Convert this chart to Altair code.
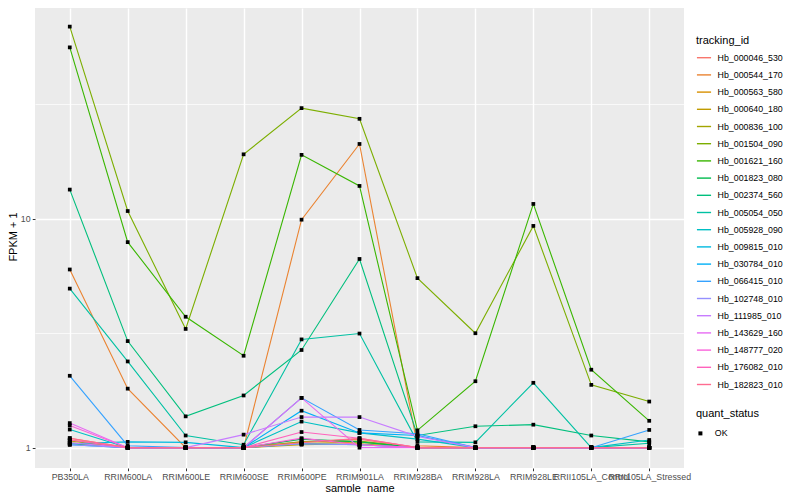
import altair as alt
import pandas as pd

# ---- data -------------------------------------------------------------
sample_names = ["PB350LA", "RRIM600LA", "RRIM600LE", "RRIM600SE", "RRIM600PE",
                "RRIM901LA", "RRIM928BA", "RRIM928LA", "RRIM928LE",
                "RRII105LA_Control", "RRII105LA_Stressed"]

tracking_ids = ["Hb_000046_530", "Hb_000544_170", "Hb_000563_580", "Hb_000640_180",
                "Hb_000836_100", "Hb_001504_090", "Hb_001621_160", "Hb_001823_080",
                "Hb_002374_560", "Hb_005054_050", "Hb_005928_090", "Hb_009815_010",
                "Hb_030784_010", "Hb_066415_010", "Hb_102748_010", "Hb_111985_010",
                "Hb_143629_160", "Hb_148777_020", "Hb_176082_010", "Hb_182823_010"]

hb_000046_530 = [1.10, 1.00, 1.00, 1.00, 1.06, 1.09, 1.00, 1.00, 1.00, 1.00, 1.00]
hb_000544_170 = [6.00, 1.81, 1.00, 1.00, 9.90, 21.2, 1.02, 1.00, 1.00, 1.00, 1.00]
hb_000563_580 = [1.08, 1.00, 1.00, 1.00, 1.04, 1.06, 1.00, 1.00, 1.00, 1.00, 1.00]
hb_000640_180 = [1.05, 1.00, 1.00, 1.00, 1.03, 1.04, 1.00, 1.00, 1.00, 1.00, 1.00]
hb_000836_100 = [1.07, 1.00, 1.00, 1.00, 1.06, 1.07, 1.00, 1.00, 1.00, 1.00, 1.00]
hb_001504_090 = [69.0, 10.8, 3.30, 19.1, 30.4, 27.3, 5.50, 3.16, 9.30, 1.88, 1.59]
hb_001621_160 = [56.0, 7.90, 3.73, 2.52, 19.0, 13.9, 1.19, 1.95, 11.6, 2.19, 1.31]
hb_001823_080 = [1.04, 1.00, 1.00, 1.00, 1.09, 1.06, 1.00, 1.00, 1.00, 1.00, 1.00]
hb_002374_560 = [13.4, 2.92, 1.37, 1.69, 2.67, 6.67, 1.13, 1.24, 1.26, 1.13, 1.06]
hb_005054_050 = [4.95, 2.38, 1.13, 1.03, 2.97, 3.15, 1.06, 1.055, 1.92, 1.00, 1.045]
hb_005928_090 = [1.20, 1.00, 1.00, 1.00, 1.30, 1.16, 1.09, 1.00, 1.00, 1.00, 1.08]
hb_009815_010 = [1.04, 1.06, 1.055, 1.00, 1.04, 1.03, 1.00, 1.00, 1.00, 1.00, 1.00]
hb_030784_010 = [1.03, 1.00, 1.00, 1.00, 1.45, 1.16, 1.13, 1.00, 1.00, 1.00, 1.00]
hb_066415_010 = [2.06, 1.02, 1.00, 1.00, 1.65, 1.195, 1.15, 1.00, 1.00, 1.00, 1.195]
hb_102748_010 = [1.03, 1.00, 1.00, 1.00, 1.04, 1.03, 1.00, 1.00, 1.00, 1.00, 1.00]
hb_111985_010 = [1.05, 1.00, 1.00, 1.14, 1.36, 1.36, 1.12, 1.00, 1.00, 1.00, 1.00]
hb_143629_160 = [1.28, 1.00, 1.00, 1.00, 1.65, 1.00, 1.00, 1.00, 1.00, 1.00, 1.00]
hb_148777_020 = [1.25, 1.00, 1.00, 1.00, 1.10, 1.03, 1.00, 1.00, 1.00, 1.00, 1.00]
hb_176082_010 = [1.08, 1.00, 1.00, 1.00, 1.17, 1.10, 1.00, 1.00, 1.00, 1.00, 1.00]
hb_182823_010 = [1.10, 1.00, 1.00, 1.00, 1.05, 1.10, 1.00, 1.00, 1.00, 1.00, 1.00]

series_values = [hb_000046_530, hb_000544_170, hb_000563_580, hb_000640_180,
                 hb_000836_100, hb_001504_090, hb_001621_160, hb_001823_080,
                 hb_002374_560, hb_005054_050, hb_005928_090, hb_009815_010,
                 hb_030784_010, hb_066415_010, hb_102748_010, hb_111985_010,
                 hb_143629_160, hb_148777_020, hb_176082_010, hb_182823_010]

hue_colors = ["#F8766D", "#EA8331", "#D89000", "#C09B00", "#A3A500", "#7CAE00",
              "#39B600", "#00BB4E", "#00BF7D", "#00C1A3", "#00BFC4", "#00BAE0",
              "#00B0F6", "#35A2FF", "#9590FF", "#C77CFF", "#E76BF3", "#FA62DB",
              "#FF62BC", "#FF6C91"]

rows = []
for tid, vals in zip(tracking_ids, series_values):
    for s, v in zip(sample_names, vals):
        rows.append({"tracking_id": tid, "sample_name": s, "fpkm": v, "quant_status": "OK"})
df = pd.DataFrame(rows)

FONT = "Liberation Sans"

x_enc = alt.X("sample_name:N", sort=sample_names,
              scale=alt.Scale(type="point", padding=0.6),
              axis=alt.Axis(title="sample_name", labelAngle=0, labelOverlap=False,
                            labelFontSize=8.8, labelColor="#4D4D4D", labelPadding=2.2,
                            tickSize=2.75, tickColor="#333333", domain=False,
                            grid=True, gridColor="white", gridWidth=1.4,
                            titleFontSize=11, titleFontWeight="normal", titleColor="black",
                            titleX=324.5, titleY=20, titleBaseline="middle"))

yscale = alt.Scale(type="log", domain=[0.815, 83.2], nice=False)

lines = alt.Chart(df).mark_line(strokeWidth=1.1).encode(
    x=x_enc,
    y=alt.Y("fpkm:Q", scale=yscale,
            axis=alt.Axis(title="FPKM + 1", values=[1, 10], format="~g",
                          labelFontSize=8.8, labelColor="#4D4D4D", labelPadding=2.2,
                          tickSize=2.75, tickColor="#333333", domain=False,
                          grid=True, gridColor="white", gridWidth=1.4,
                          titleFontSize=11, titleFontWeight="normal", titleColor="black",
                          titleX=-22, titleY=228.5, titleAngle=-90,
                          titleAlign="center", titleBaseline="middle")),
    color=alt.Color("tracking_id:N",
                    scale=alt.Scale(domain=tracking_ids, range=hue_colors),
                    legend=alt.Legend(title="tracking_id", orient="none",
                                      legendX=661, legendY=27,
                                      symbolType="stroke", symbolSize=200,
                                      symbolStrokeWidth=1.4,
                                      labelFontSize=8.8, labelColor="black",
                                      titleFontSize=11, titleFontWeight="normal",
                                      titlePadding=3.7, rowPadding=4.2,
                                      labelOffset=5.6)),
    detail="tracking_id:N",
)

points = alt.Chart(df).mark_point(filled=True, size=14, color="black", opacity=1).encode(
    x=alt.X("sample_name:N", sort=sample_names),
    y=alt.Y("fpkm:Q", scale=yscale,
            axis=alt.Axis(orient="right", values=[3.1623, 31.623], labels=False,
                          ticks=False, domain=False, title=None,
                          grid=True, gridColor="white", gridWidth=0.7)),
    shape=alt.Shape("quant_status:N",
                    scale=alt.Scale(domain=["OK"], range=["square"]),
                    legend=alt.Legend(title="quant_status", orient="none",
                                      legendX=661, legendY=400,
                                      symbolSize=16, symbolFillColor="black",
                                      symbolStrokeColor="black",
                                      labelFontSize=8.8, labelColor="black",
                                      titleFontSize=11, titleFontWeight="normal",
                                      titlePadding=10, labelOffset=10)),
)

chart = alt.layer(lines, points).resolve_axis(y="independent").properties(
    width=649, height=460,
    autosize=alt.AutoSizeParams(type="none"),
    padding={"left": 27, "top": 0, "right": 108, "bottom": 24},
    background="white",
).configure(font=FONT).configure_view(fill="#EBEBEB", stroke=None)

chart.save("out.html", embed_options={"renderer": "svg", "actions": False})
